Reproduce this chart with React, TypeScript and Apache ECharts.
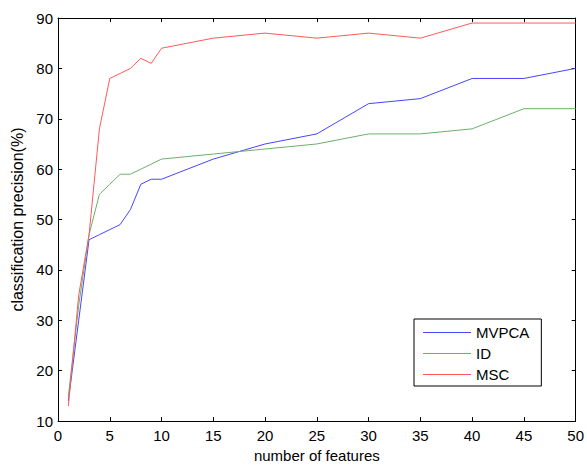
import React, { useEffect, useRef } from "react";
import * as echarts from "echarts";

const features = [1, 2, 3, 4, 5, 6, 7, 8, 9, 10, 15, 20, 25, 30, 35, 40, 45, 50];
const mvpca = [14, 30, 46, 47, 48, 49, 52, 57, 58, 58, 62, 65, 67, 73, 74, 78, 78, 80];
const idVals = [15, 33, 47, 55, 57, 59, 59, 60, 61, 62, 63, 64, 65, 67, 67, 68, 72, 72];
const msc = [13, 35, 47, 68, 78, 79, 80, 82, 81, 84, 86, 87, 86, 87, 86, 89, 89, 89];

const seriesNames = ["MVPCA", "ID", "MSC"];
const seriesColors = ["#4646ff", "#6cb06c", "#ff5a5a"];
const seriesValues = [mvpca, idVals, msc];

const FONT = "'Liberation Sans', Arial, sans-serif";

export default function App() {
  const ref = useRef<HTMLDivElement>(null);
  useEffect(() => {
    if (!ref.current) return;
    const chart = echarts.init(ref.current, undefined, { renderer: "svg" });
    const axisLine = { show: true, onZero: false, lineStyle: { color: "#000", width: 1 } };
    const tick = { show: true, inside: true, length: 4, lineStyle: { color: "#000" } };
    const label = { color: "#000", fontSize: 15, fontFamily: FONT };
    chart.setOption({
      animation: false,
      backgroundColor: "#fff",
      grid: { left: 58, right: 8, top: 18, bottom: 40, containLabel: false },
      legend: {
        data: seriesNames,
        orient: "vertical",
        left: 414,
        top: 319,
        icon: "rect",
        itemWidth: 48,
        itemHeight: 1,
        itemGap: 6,
        padding: [6, 12, 4, 9],
        borderColor: "#000",
        borderWidth: 1,
        backgroundColor: "#fff",
        textStyle: { color: "#000", fontSize: 15, fontFamily: FONT },
      },
      xAxis: [
        {
          type: "value",
          position: "bottom",
          min: 0,
          max: 50,
          interval: 5,
          axisLine,
          axisTick: tick,
          axisLabel: { ...label, margin: 7 },
          splitLine: { show: false },
          name: "number of features",
          nameLocation: "middle",
          nameGap: 25,
          nameTextStyle: { color: "#000", fontSize: 15, fontFamily: FONT },
        },
        {
          type: "value",
          position: "top",
          min: 0,
          max: 50,
          interval: 5,
          axisLine,
          axisTick: tick,
          axisLabel: { show: false },
          splitLine: { show: false },
        },
      ],
      yAxis: [
        {
          type: "value",
          position: "left",
          min: 10,
          max: 90,
          interval: 10,
          axisLine,
          axisTick: tick,
          axisLabel: { ...label, margin: 5 },
          splitLine: { show: false },
          name: "classification precision(%)",
          nameLocation: "middle",
          nameGap: 30,
          nameTextStyle: { color: "#000", fontSize: 16, fontFamily: FONT },
        },
        {
          type: "value",
          position: "right",
          min: 10,
          max: 90,
          interval: 10,
          axisLine,
          axisTick: tick,
          axisLabel: { show: false },
          splitLine: { show: false },
        },
      ],
      series: seriesNames.map((name, i) => ({
        name,
        type: "line",
        xAxisIndex: 0,
        yAxisIndex: 0,
        showSymbol: false,
        symbol: "none",
        color: seriesColors[i],
        lineStyle: { color: seriesColors[i], width: 1 },
        data: features.map((x, j) => [x, seriesValues[i][j]]),
      })),
    });
    return () => chart.dispose();
  }, []);
  return (
    <div
      ref={ref}
      style={{ position: "fixed", left: 0, top: 0, width: 587, height: 468 }}
    />
  );
}
